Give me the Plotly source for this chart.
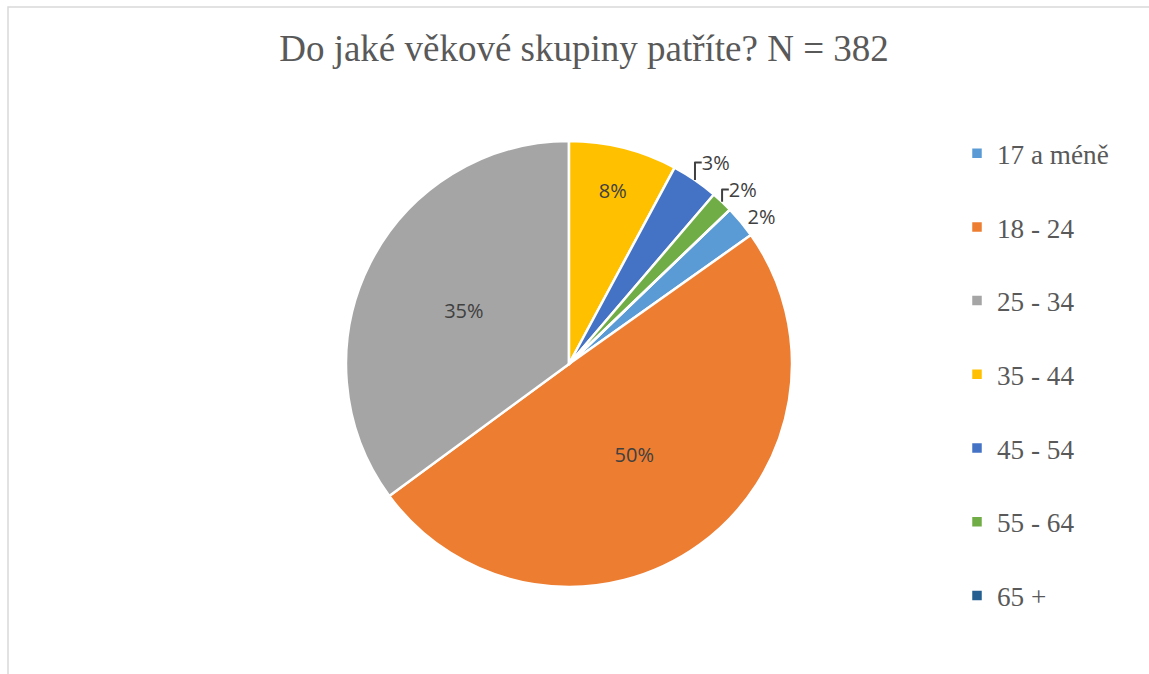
import plotly.graph_objects as go

categories = ["17 a méně", "18 - 24", "25 - 34", "35 - 44", "45 - 54", "55 - 64", "65 +"]
counts = [9, 190, 134, 30, 13, 6, 0]
colors = ["#5B9BD5", "#ED7D31", "#A5A5A5", "#FFC000", "#4472C4", "#70AD47", "#255E91"]
text_positions = ["outside", "inside", "inside", "inside", "outside", "outside", "none"]
title_text = "Do jaké věkové skupiny patříte? N = 382"

total = sum(counts)
pct_text = [f"{round(v / total * 100)}%" if v else "" for v in counts]
legend_labels = [c + "<br> " for c in categories]

W, H = 1149, 674
# rotation so that the 25 - 34 slice ends at 12 o'clock
rot = 360 * sum(counts[3:]) / total

fig = go.Figure(go.Pie(
    labels=legend_labels,
    values=counts,
    text=pct_text,
    textinfo="text",
    textposition=text_positions,
    insidetextorientation="horizontal",
    sort=False,
    direction="clockwise",
    rotation=rot,
    marker=dict(colors=colors, line=dict(color="white", width=2.5)),
    textfont=dict(family="Open Sans", size=20, color="#404040"),
    outsidetextfont=dict(family="Open Sans", size=20, color="#404040"),
    hoverinfo="label+percent",
    domain=dict(x=[346 / W, 792 / W], y=[1 - 587 / H, 1 - 141 / H]),
    showlegend=True,
))

fig.update_layout(
    width=W, height=H,
    margin=dict(l=0, r=0, t=0, b=0),
    paper_bgcolor="white",
    plot_bgcolor="white",
    title=dict(text=title_text, x=584 / W, xanchor="center", y=1 - 48 / H, yanchor="middle",
               font=dict(family="Liberation Serif", size=37, color="#595959")),
    legend=dict(x=957 / W, xanchor="left", y=1 - 129 / H, yanchor="top",
                font=dict(family="Liberation Serif", size=27.2, color="#595959"),
                valign="top", itemwidth=30, bgcolor="rgba(0,0,0,0)"),
    shapes=[dict(type="rect", xref="paper", yref="paper",
                 x0=8 / W, x1=1.05, y0=-0.05, y1=1 - 7 / H,
                 line=dict(color="#D9D9D9", width=1.5), layer="below")],
)

fig.write_html("out.html", config={"displayModeBar": False},
               post_script="document.body.style.margin='0px';")
